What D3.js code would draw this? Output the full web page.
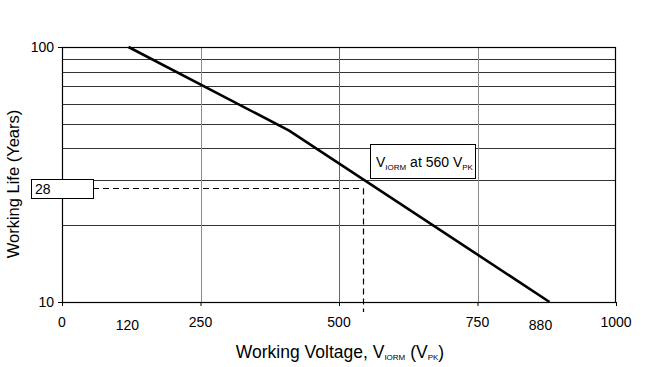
<!DOCTYPE html>
<html><head><meta charset="utf-8">
<script src="https://cdn.jsdelivr.net/npm/d3@7"></script>
<style>
body{margin:0;background:#fff;}
text{font-family:"Liberation Sans",Arial,sans-serif;fill:#000;}
</style></head>
<body>
<svg id="c" width="647" height="367"></svg>
<script>
const curveVoltage = [120, 410, 880];
const curveLife = [100, 47, 10];
const xTickValues = [0, 250, 500, 750, 1000];
const xGridValues = [250, 500, 750];
const xLabelValues = [0, 120, 250, 500, 750, 880, 1000];
const yGridValues = [20, 30, 40, 50, 60, 70, 80, 90];
const yLabelValues = [10, 100];
const markerVoltage = 544;
const markerLife = 28;
const markerLabel = "28";

const svg = d3.select("#c");
const L = 62, R = 616, T = 47, B = 302;
const x = d3.scaleLinear().domain([0, 1000]).range([L, R]);
const y = d3.scaleLog().domain([10, 100]).range([B, T]);

// horizontal grid
svg.append("g").selectAll("line").data(yGridValues).join("line")
  .attr("x1", L).attr("x2", R).attr("y1", d => Math.round(y(d)) + 0.5).attr("y2", d => Math.round(y(d)) + 0.5)
  .attr("stroke", "#333").attr("stroke-width", 1);
// vertical grid
svg.append("g").selectAll("line").data(xGridValues).join("line")
  .attr("x1", d => Math.round(x(d)) + 0.5).attr("x2", d => Math.round(x(d)) + 0.5)
  .attr("y1", T).attr("y2", B)
  .attr("stroke", d => d === 500 ? "#666" : "#8a8a8a").attr("stroke-width", 1);

// x axis ticks
const xAxis = d3.axisBottom(x).tickValues(xTickValues).tickSize(4).tickFormat("");
const gx = svg.append("g").attr("transform", `translate(0,${B})`).call(xAxis);
gx.select(".domain").remove();
gx.selectAll("line").attr("stroke", "#000");
// y axis ticks
const yAxis = d3.axisLeft(y).tickValues(yLabelValues).tickSize(4).tickFormat("");
const gy = svg.append("g").attr("transform", `translate(${L},0)`).call(yAxis);
gy.select(".domain").remove();
gy.selectAll("line").attr("stroke", "#000");

// frame
svg.append("rect").attr("x", L + 0.5).attr("y", T + 0.5).attr("width", R - L - 1).attr("height", B - T)
  .attr("fill", "none").attr("stroke", "#000").attr("stroke-width", 1.2);

// x labels
svg.append("g").selectAll("text").data(xLabelValues).join("text")
  .attr("x", d => x(d) + (d === 880 ? -9 : (d === 120 ? -1 : 0)))
  .attr("y", d => (d === 120 || d === 880) ? 330 : 327)
  .attr("text-anchor", "middle").attr("font-size", 14)
  .text(d => d);
// y labels
svg.append("g").selectAll("text").data(yLabelValues).join("text")
  .attr("x", 54).attr("y", d => y(d) + 5)
  .attr("text-anchor", "end").attr("font-size", 14)
  .text(d => d);

// curve
const line = d3.line().x(d => x(d[0])).y(d => y(d[1]));
svg.append("path").datum(curveVoltage.map((v, i) => [v, curveLife[i]]))
  .attr("d", line).attr("fill", "none").attr("stroke", "#000").attr("stroke-width", 2.6);

// dashed marker lines
const my = Math.round(y(markerLife)) + 0.5;
const mx = Math.round(x(markerVoltage)) + 0.5;
svg.append("line").attr("x1", 93).attr("x2", mx).attr("y1", my).attr("y2", my)
  .attr("stroke", "#000").attr("stroke-width", 1.2).attr("stroke-dasharray", "6,4");
svg.append("line").attr("x1", mx).attr("x2", mx).attr("y1", my).attr("y2", 312)
  .attr("stroke", "#000").attr("stroke-width", 1.2).attr("stroke-dasharray", "6,4");

// 28 box
svg.append("rect").attr("x", 31.5).attr("y", my - 9).attr("width", 62).attr("height", 19)
  .attr("fill", "#fff").attr("stroke", "#000").attr("stroke-width", 1);
svg.append("text").attr("x", 35).attr("y", my + 5.5).attr("font-size", 14).text(markerLabel);

// annotation box
svg.append("rect").attr("x", 370.5).attr("y", 144.5).attr("width", 105).attr("height", 34)
  .attr("fill", "#fff").attr("stroke", "#000").attr("stroke-width", 1);
const ann = svg.append("text").attr("x", 376).attr("y", 167).attr("font-size", 14);
ann.append("tspan").text("V");
ann.append("tspan").attr("font-size", 8).attr("dy", 3).text("IORM");
ann.append("tspan").attr("dy", -3).text(" at 560 V");
ann.append("tspan").attr("font-size", 8).attr("dy", 3).text("PK");

// axis titles
const xt = svg.append("text").attr("x", 340).attr("y", 358).attr("text-anchor", "middle").attr("font-size", 17.5);
xt.append("tspan").text("Working Voltage, V");
xt.append("tspan").attr("font-size", 8).attr("dy", 2).text("IORM");
xt.append("tspan").attr("dy", -2).text(" (V");
xt.append("tspan").attr("font-size", 8).attr("dy", 2).text("PK");
xt.append("tspan").attr("dy", -2).text(")");

svg.append("text").attr("transform", "translate(19,184) rotate(-90)")
  .attr("text-anchor", "middle").attr("font-size", 16.5).text("Working Life (Years)");
</script>
</body></html>
